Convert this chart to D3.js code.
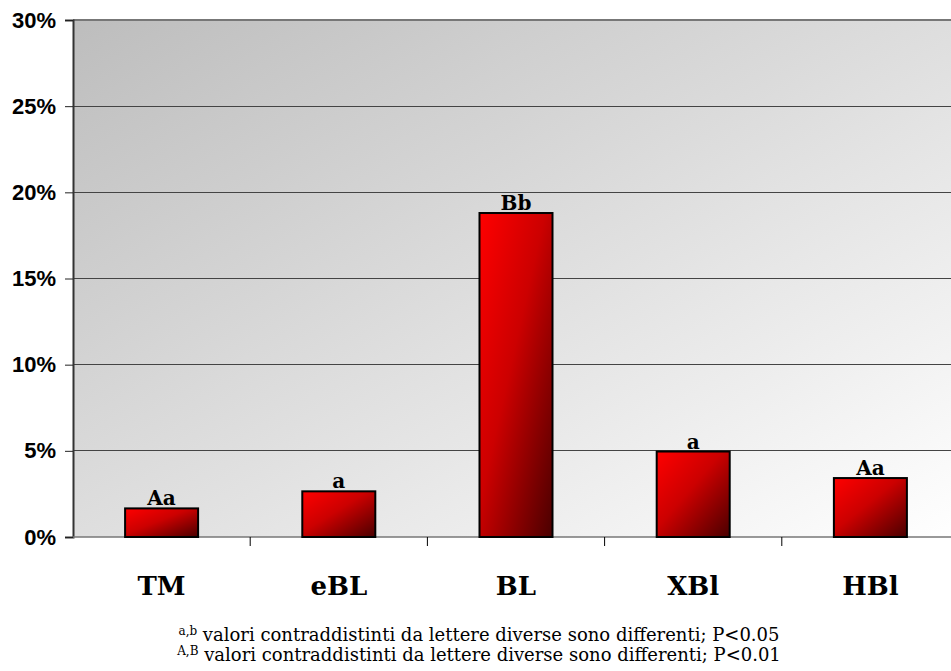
<!DOCTYPE html>
<html>
<head>
<meta charset="utf-8">
<script src="https://cdn.jsdelivr.net/npm/d3@7"></script>
<style>
  html, body { margin: 0; padding: 0; background: #ffffff; }
  svg { display: block; }
</style>
</head>
<body>
<script>
// Data
const categories = ["TM", "eBL", "BL", "XBl", "HBl"];
const values = [1.66, 2.65, 18.8, 4.96, 3.42];      // percent
const letters = ["Aa", "a", "Bb", "a", "Aa"];
const yTicks = [0, 5, 10, 15, 20, 25, 30];
const footnotes = [
  { sup: "a,b", text: " valori contraddistinti da lettere diverse sono differenti; P<0.05" },
  { sup: "A,B", text: " valori contraddistinti da lettere diverse sono differenti; P<0.01" }
];

const W = 951, H = 671;
const plot = { left: 73, right: 959, top: 20, bottom: 537 };

const svg = d3.select("body").append("svg").attr("width", W).attr("height", H);
const defs = svg.append("defs");

const bg = defs.append("linearGradient").attr("id", "bgGrad")
  .attr("x1", "0%").attr("y1", "0%").attr("x2", "100%").attr("y2", "100%");
bg.append("stop").attr("offset", "0%").attr("stop-color", "#bdbdbd");
bg.append("stop").attr("offset", "100%").attr("stop-color", "#ffffff");

const barGrad = defs.append("linearGradient").attr("id", "barGrad")
  .attr("x1", "0%").attr("y1", "0%").attr("x2", "100%").attr("y2", "100%");
barGrad.append("stop").attr("offset", "0%").attr("stop-color", "#ff0000");
barGrad.append("stop").attr("offset", "45%").attr("stop-color", "#cc0000");
barGrad.append("stop").attr("offset", "100%").attr("stop-color", "#4a0000");

const x = d3.scaleBand().domain(categories)
  .range([plot.left, plot.right])
  .paddingInner(0.588).paddingOuter(0.294);
const xTick = d3.scaleBand().domain(categories).range([plot.left, plot.right]).padding(0);
const y = d3.scaleLinear().domain([0, 30]).range([plot.bottom, plot.top]);

// plot background
svg.append("rect")
  .attr("x", plot.left).attr("y", plot.top)
  .attr("width", plot.right - plot.left).attr("height", plot.bottom - plot.top)
  .attr("fill", "url(#bgGrad)");

// gridlines
svg.append("g").selectAll("line").data(yTicks.filter(d => d > 0)).join("line")
  .attr("x1", plot.left).attr("x2", plot.right)
  .attr("y1", d => y(d)).attr("y2", d => y(d))
  .attr("stroke", d => d === 30 ? "#777" : "#444").attr("stroke-width", d => d === 30 ? 2 : 1)
  .attr("shape-rendering", "crispEdges");

// y axis
const yAxis = svg.append("g").attr("transform", `translate(${plot.left},0)`)
  .call(d3.axisLeft(y).tickValues(yTicks).tickFormat(d => d + "%").tickSize(8).tickPadding(9));
yAxis.select(".domain").attr("stroke", "#333").attr("stroke-width", 2);
yAxis.selectAll(".tick line").attr("stroke", "#222");
yAxis.selectAll("text")
  .attr("font-family", "'Liberation Sans', Arial, sans-serif")
  .attr("font-weight", "bold").attr("font-size", 22).attr("fill", "#000");

// x axis
const xAxis = svg.append("g").attr("transform", `translate(0,${plot.bottom})`);
xAxis.append("line").attr("x1", plot.left).attr("x2", plot.right)
  .attr("y1", 0).attr("y2", 0).attr("stroke", "#777").attr("stroke-width", 1.5);
xAxis.selectAll(".sep").data(categories.slice(1)).join("line")
  .attr("class", "sep")
  .attr("x1", d => xTick(d)).attr("x2", d => xTick(d))
  .attr("y1", 0).attr("y2", 9).attr("stroke", "#000");
xAxis.selectAll(".lbl").data(categories).join("text")
  .attr("class", "lbl")
  .attr("x", d => xTick(d) + xTick.bandwidth() / 2)
  .attr("y", 58)
  .attr("text-anchor", "middle")
  .attr("font-family", "'DejaVu Serif', serif")
  .attr("font-weight", "bold").attr("font-size", 26).attr("fill", "#000")
  .text(d => d);

// bars
svg.append("g").selectAll("rect").data(categories).join("rect")
  .attr("x", d => x(d))
  .attr("y", (d, i) => y(values[i]))
  .attr("width", x.bandwidth())
  .attr("height", (d, i) => y(0) - y(values[i]))
  .attr("fill", "url(#barGrad)")
  .attr("stroke", "#000").attr("stroke-width", 2);

// significance letters
svg.append("g").selectAll("text").data(categories).join("text")
  .attr("x", d => x(d) + x.bandwidth() / 2)
  .attr("y", (d, i) => y(values[i]) - 3)
  .attr("text-anchor", "middle")
  .attr("font-family", "'DejaVu Serif', serif")
  .attr("font-weight", "bold").attr("font-size", 20).attr("fill", "#000")
  .text((d, i) => letters[i]);

// footnotes
const fn = svg.append("g");
footnotes.forEach((f, i) => {
  const t = fn.append("text")
    .attr("x", 479).attr("y", 641 + i * 20)
    .attr("text-anchor", "middle")
    .attr("font-family", "'DejaVu Serif', serif")
    .attr("font-size", 18).attr("fill", "#000");
  t.append("tspan").attr("font-size", 12).attr("dy", -6).text(f.sup);
  t.append("tspan").attr("dy", 6).text(f.text);
});
</script>
</body>
</html>
